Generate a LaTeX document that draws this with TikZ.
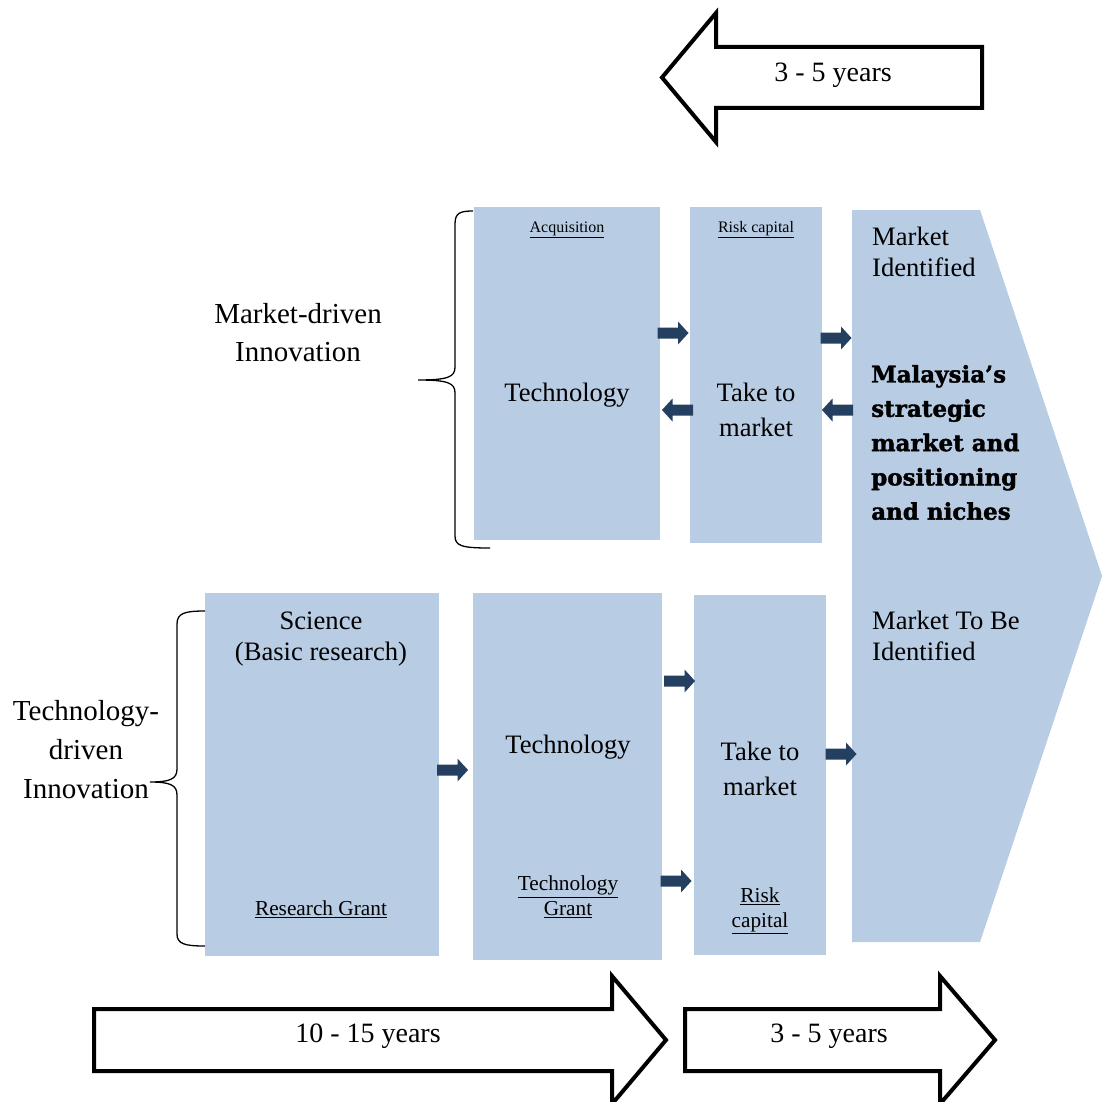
\documentclass[tikz,border=0pt]{standalone}
\usepackage{fontspec}
\setmainfont{Liberation Serif}
\newfontfamily\heavyfont{DejaVu Serif}[BoldFeatures={FakeBold=1.6}]
\definecolor{boxblue}{HTML}{B8CCE4}
\definecolor{navy}{HTML}{243F60}
\newcommand\fsz[2]{\fontsize{#1}{#2}\selectfont}
\tikzset{
  box/.style={fill=boxblue, draw=none, anchor=north west, inner sep=0pt},
  bigarrow/.style={draw=black, fill=white, line width=4pt, miter limit=10},
  flowarrow/.pic={\fill[navy] (-15.5,-5.5) -- (5,-5.5) -- (5,-11.5) -- (15.5,0)
     -- (5,11.5) -- (5,5.5) -- (-15.5,5.5) -- cycle;},
  brace/.style={draw=black, line width=1.3pt},
  boxtext/.style={align=center, inner sep=0pt, font=\fsz{26.6}{35.5}},
  smalltext/.style={align=center, inner sep=0pt, font=\fsz{16}{20}},
  grant/.style={align=center, inner sep=0pt, font=\fsz{21.3}{25}},
  sidelabel/.style={align=center, inner sep=0pt, font=\fsz{29}{38.7}},
  yearstext/.style={inner sep=0pt, font=\fsz{28}{30}}
}
\begin{document}
\begin{tikzpicture}[x=1pt,y=-1pt]
\useasboundingbox (0,0) rectangle (1102,1102);
\clip (0,0) rectangle (1102,1102);

% time span arrows
\draw[bigarrow] (982,47) -- (716,47) -- (716,13) -- (662,77.5) -- (716,142) -- (716,108) -- (982,108) -- cycle;
\node[yearstext] (yrtop) at (833,75) {3 - 5 years};

\draw[bigarrow] (94,1009) -- (612,1009) -- (612,976) -- (666,1040) -- (612,1104) -- (612,1071) -- (94,1071) -- cycle;
\node[yearstext] (yrlong) at (368,1036) {10 - 15 years};

\draw[bigarrow] (685,1009) -- (940,1009) -- (940,976) -- (995,1040) -- (940,1104) -- (940,1071) -- (685,1071) -- cycle;
\node[yearstext] (yrshort) at (829,1036) {3 - 5 years};

% market target
\fill[boxblue] (852,210) -- (980,210) -- (1102,576) -- (980,942) -- (852,942) -- cycle;
\node[anchor=west, align=left, inner sep=0pt, font=\fsz{26.6}{31}] (mktid) at (872,251.5) {Market\\Identified};
\node[anchor=west, align=left, inner sep=0pt, font={\heavyfont\bfseries\fsz{23}{34.3}}] (niche) at (871,442.5)
  {Malaysia’s\\strategic\\market and\\positioning\\and niches};
\node[anchor=west, align=left, inner sep=0pt, font=\fsz{26.6}{31}] (mkttbi) at (872,636) {Market To Be\\Identified};

% market-driven row
\node[box, minimum width=186pt, minimum height=333pt] (mtech) at (474,207) {};
\node[box, minimum width=132pt, minimum height=336pt] (mttm) at (690,207) {};
\node[smalltext] at (567,230) {\underline{Acquisition}};
\node[smalltext] at (756,230) {\underline{Risk capital}};
\node[boxtext] (mtechlbl) at (567,395) {Technology};
\node[boxtext] (mttmlbl) at (756,410) {Take to\\market};

\pic (ma1) at (673,333) {flowarrow};
\pic[rotate=180] (ma2) at (677.5,410) {flowarrow};
\pic (ma3) at (836,338) {flowarrow};
\pic[rotate=180] (ma4) at (837.5,410) {flowarrow};

% technology-driven row
\node[box, minimum width=234pt, minimum height=363pt] (sci) at (205,593) {};
\node[box, minimum width=189pt, minimum height=367pt] (ttech) at (473,593) {};
\node[box, minimum width=132pt, minimum height=360pt] (tttm) at (694,595) {};
\node[align=center, inner sep=0pt, font=\fsz{26.6}{31}] (scilbl) at (321,639) {Science\\(Basic research)};
\node[grant] at (321,909) {\underline{Research Grant}};
\node[boxtext] (ttechlbl) at (568,747) {Technology};
\node[grant] at (568,897) {\underline{Technology}\\\underline{Grant}};
\node[boxtext] (tttmlbl) at (760,769) {Take to\\market};
\node[grant] at (760,911) {\underline{Risk}\\\underline{capital}};

\pic (ta1) at (679.5,681) {flowarrow};
\pic (ta2) at (452.5,770) {flowarrow};
\pic (ta3) at (676,881) {flowarrow};
\pic (ta4) at (841,754) {flowarrow};

% braces and their labels
\draw[brace] (473,211) .. controls (460,211) and (455,213) .. (455,224) -- (455,367)
  .. controls (455,377) and (448,380) .. (418,380)
  .. controls (448,380) and (455,383) .. (455,393) -- (455,536)
  .. controls (455,546) and (462,548) .. (490,548);
\node[sidelabel] (mdi) at (298,332.5) {Market-driven\\Innovation};

\draw[brace] (205,611) .. controls (185,611) and (177,613) .. (177,624) -- (177,769)
  .. controls (177,779) and (170,782) .. (150,782)
  .. controls (170,782) and (177,785) .. (177,795) -- (177,934)
  .. controls (177,944) and (185,946) .. (205,946);
\node[sidelabel] (tdi) at (86,749.5) {Technology-\\driven\\Innovation};
\end{tikzpicture}
\end{document}
